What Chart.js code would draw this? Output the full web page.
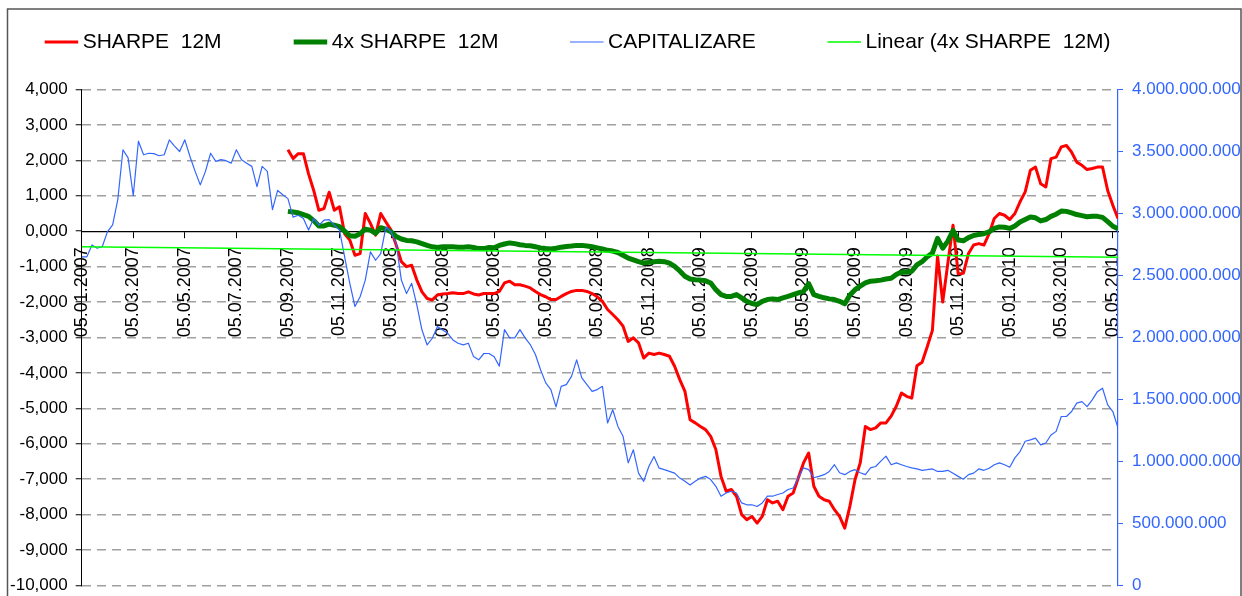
<!DOCTYPE html>
<html>
<head>
<meta charset="utf-8">
<script src="https://cdn.jsdelivr.net/npm/chart.js@4.4.0/dist/chart.umd.min.js"></script>
<style>
  html, body { margin: 0; padding: 0; background: #fff; }
  #wrap { width: 1242px; height: 596px; }
</style>
</head>
<body>
<div id="wrap"><canvas id="chart" width="1242" height="596"></canvas></div>
<script>
// Tick labels, one every two months
const tickLabels = [
    '05.01.2007', '05.03.2007', '05.05.2007', '05.07.2007', '05.09.2007', '05.11.2007',
    '05.01.2008', '05.03.2008', '05.05.2008', '05.07.2008', '05.09.2008', '05.11.2008',
    '05.01.2009', '05.03.2009', '05.05.2009', '05.07.2009', '05.09.2009', '05.11.2009',
    '05.01.2010', '05.03.2010', '05.05.2010'
];

// One point every tenth of a two-month period
const STEP = 0.1;
const X_MAX = 20.1;
// Sharpe series start at 05.09.2007 (point 40)
const SHARPE_START = 40;

// SHARPE 12M (left axis)
const sharpe12m = [
    2.30, 2.05, 2.19, 2.19, 1.62, 1.15, 0.59, 0.64, 1.10, 0.59,
    0.69, -0.07, -0.25, -0.68, -0.63, 0.50, 0.22, -0.11, 0.50, 0.26,
    0.03, -0.39, -0.86, -1.00, -0.96, -1.38, -1.71, -1.90, -1.94, -1.80,
    -1.77, -1.76, -1.74, -1.76, -1.76, -1.71, -1.77, -1.80, -1.76, -1.76,
    -1.76, -1.70, -1.46, -1.41, -1.51, -1.51, -1.55, -1.60, -1.70, -1.79,
    -1.85, -1.93, -1.93, -1.84, -1.76, -1.70, -1.67, -1.67, -1.70, -1.76,
    -1.85, -1.98, -2.21, -2.35, -2.50, -2.68, -3.11, -3.01, -3.15, -3.58,
    -3.44, -3.48, -3.44, -3.48, -3.53, -3.81, -4.19, -4.52, -5.32, -5.41,
    -5.51, -5.60, -5.79, -6.16, -6.92, -7.34, -7.29, -7.48, -8.00, -8.14,
    -8.05, -8.24, -8.05, -7.58, -7.67, -7.62, -7.86, -7.48, -7.39, -6.96,
    -6.54, -6.26, -7.20, -7.48, -7.58, -7.62, -7.86, -8.05, -8.38, -7.76,
    -7.01, -6.54, -5.51, -5.60, -5.55, -5.41, -5.41, -5.22, -4.94, -4.57,
    -4.66, -4.71, -3.80, -3.70, -3.26, -2.80, -0.70, -2.00, -0.90, 0.17,
    -1.20, -1.19, -0.63, -0.39, -0.35, -0.39, -0.07, 0.36, 0.50, 0.45,
    0.33, 0.50, 0.83, 1.11, 1.72, 1.81, 1.34, 1.25, 2.05, 2.09,
    2.38, 2.42, 2.23, 1.95, 1.86, 1.74, 1.77, 1.81, 1.81, 1.15,
    0.73, 0.36
];

// 4x SHARPE 12M (left axis)
const sharpe4x = [
    0.56, 0.54, 0.52, 0.47, 0.42, 0.30, 0.15, 0.15, 0.20, 0.17,
    0.13, 0.00, -0.13, -0.14, -0.07, 0.06, 0.03, -0.06, 0.10, 0.06,
    -0.02, -0.15, -0.22, -0.26, -0.27, -0.30, -0.35, -0.40, -0.44, -0.46,
    -0.44, -0.44, -0.44, -0.45, -0.45, -0.44, -0.46, -0.49, -0.49, -0.46,
    -0.47, -0.40, -0.36, -0.33, -0.35, -0.38, -0.40, -0.41, -0.44, -0.47,
    -0.49, -0.50, -0.48, -0.45, -0.43, -0.42, -0.40, -0.40, -0.42, -0.44,
    -0.47, -0.50, -0.54, -0.56, -0.60, -0.68, -0.76, -0.81, -0.86, -0.90,
    -0.88, -0.86, -0.85, -0.86, -0.90, -0.99, -1.12, -1.27, -1.35, -1.37,
    -1.38, -1.40, -1.46, -1.65, -1.79, -1.84, -1.84, -1.79, -1.88, -1.98,
    -2.04, -2.07, -1.98, -1.93, -1.91, -1.93, -1.88, -1.84, -1.79, -1.74,
    -1.70, -1.48, -1.79, -1.84, -1.88, -1.91, -1.93, -1.98, -2.05, -1.80,
    -1.65, -1.55, -1.46, -1.41, -1.40, -1.38, -1.35, -1.33, -1.22, -1.15,
    -1.16, -1.13, -0.95, -0.86, -0.72, -0.62, -0.20, -0.48, -0.28, 0.02,
    -0.25, -0.27, -0.18, -0.12, -0.09, -0.07, -0.02, 0.08, 0.12, 0.11,
    0.08, 0.15, 0.26, 0.33, 0.40, 0.38, 0.29, 0.33, 0.42, 0.48,
    0.57, 0.56, 0.52, 0.47, 0.44, 0.41, 0.42, 0.42, 0.39, 0.27,
    0.14, 0.07
];

// CAPITALIZARE in millions (right axis)
const capitalizareMil = [
    2651, 2651, 2746, 2720, 2734, 2854, 2909, 3111, 3514, 3449,
    3143, 3583, 3474, 3486, 3483, 3466, 3474, 3594, 3543, 3500,
    3594, 3460, 3340, 3231, 3340, 3486, 3420, 3434, 3426, 3406,
    3514, 3434, 3406, 3380, 3217, 3380, 3340, 3031, 3186, 3151,
    3120, 2971, 2986, 2960, 2866, 2960, 2906, 2946, 2951, 2906,
    2866, 2651, 2437, 2250, 2329, 2463, 2691, 2623, 2677, 2891,
    2851, 2757, 2463, 2354, 2437, 2263, 2060, 1940, 1994, 2089,
    2060, 2034, 1980, 1954, 1940, 1954, 1846, 1820, 1871, 1871,
    1845, 1769, 2063, 1997, 1997, 2063, 1997, 1943, 1863, 1740,
    1634, 1580, 1440, 1606, 1620, 1686, 1820, 1674, 1620, 1566,
    1580, 1606, 1311, 1417, 1283, 1203, 989, 1094, 906, 840,
    960, 1040, 946, 934, 920, 906, 866, 840, 811, 840,
    866, 880, 854, 800, 720, 746, 760, 746, 666, 651,
    651, 637, 666, 720, 720, 734, 746, 774, 786, 869,
    949, 934, 869, 880, 894, 920, 974, 909, 894, 920,
    934, 909, 894, 949, 960, 1003, 1043, 974, 989, 974,
    960, 949, 940, 929, 934, 940, 920, 920, 929, 906,
    880, 857, 894, 906, 940, 929, 946, 974, 989, 974,
    954, 1029, 1080, 1163, 1174, 1189, 1134, 1149, 1214, 1243,
    1363, 1363, 1403, 1471, 1483, 1443, 1497, 1563, 1591, 1457,
    1403, 1269
];

// Linear trend of 4x SHARPE 12M, value at both ends of the axis
const trendEnds = [-0.435, -0.735];

const FONT = '"Liberation Sans", Arial, sans-serif';
const BLUE = '#3366ff';

function toPoints(values, start) {
    return values.map(function(v, i) {
        return { x: (start + i) * STEP, y: v };
    });
}

function formatLeft(v) {
    return v.toFixed(3).replace('.', ',');
}

function formatRight(v) {
    if (v === 0) {
        return '0';
    }
    return Math.round(v * 1000000).toString().replace(/\B(?=(\d{3})+(?!\d))/g, '.');
}

// keep label overflow from shrinking the plot area
function fixWidth(width) {
    return function(scale) {
        scale.width = width;
        scale.paddingTop = 0;
        scale.paddingBottom = 0;
    };
}

// Excel style legend on one row
const legendX = [44.7, 293.7, 570, 827.5];

const excelLegend = {
    id: 'excelLegend',
    afterDraw: function(chart) {
        const ctx = chart.ctx;
        const y = 42;
        ctx.save();
        ctx.font = '21px ' + FONT;
        ctx.textBaseline = 'middle';
        ctx.textAlign = 'left';
        chart.data.datasets.forEach(function(ds, i) {
            const x = legendX[i];
            ctx.strokeStyle = ds.borderColor;
            ctx.lineWidth = ds.borderWidth;
            ctx.beginPath();
            ctx.moveTo(x, y);
            ctx.lineTo(x + 33.5, y);
            ctx.stroke();
            ctx.fillStyle = '#000';
            ctx.fillText(ds.label, x + 38, y);
        });
        ctx.restore();
    }
};

// Outer frame of the chart object
const frame = {
    id: 'frame',
    afterDraw: function(chart) {
        const ctx = chart.ctx;
        ctx.save();
        ctx.strokeStyle = '#555';
        ctx.lineWidth = 1.5;
        ctx.strokeRect(7.5, 9, 1233.5, 600);
        ctx.restore();
    }
};

const chart = new Chart(document.getElementById('chart'), {
    type: 'line',
    data: {
        datasets: [
            {
                label: 'SHARPE  12M',
                data: toPoints(sharpe12m, SHARPE_START),
                borderColor: '#ff0000',
                borderWidth: 3,
                yAxisID: 'y',
                order: 3
            },
            {
                label: '4x SHARPE  12M',
                data: toPoints(sharpe4x, SHARPE_START),
                borderColor: '#008000',
                borderWidth: 5,
                yAxisID: 'y',
                order: 2
            },
            {
                label: 'CAPITALIZARE',
                data: toPoints(capitalizareMil, 0),
                borderColor: BLUE,
                borderWidth: 1.2,
                yAxisID: 'y2',
                order: 1
            },
            {
                label: 'Linear (4x SHARPE  12M)',
                data: [{ x: 0, y: trendEnds[0] }, { x: X_MAX, y: trendEnds[1] }],
                borderColor: '#00ff00',
                borderWidth: 1.5,
                yAxisID: 'y',
                order: 0
            }
        ]
    },
    options: {
        responsive: false,
        animation: false,
        devicePixelRatio: 1,
        layout: {
            padding: { left: 10, right: 0, top: 89.5, bottom: 10.5 }
        },
        elements: {
            point: { radius: 0 },
            line: { tension: 0, fill: false, borderJoinStyle: 'round' }
        },
        plugins: {
            legend: { display: false },
            tooltip: { enabled: false }
        },
        scales: {
            x: {
                type: 'linear',
                position: { y: 0 },
                min: 0,
                max: X_MAX,
                afterBuildTicks: function(scale) {
                    scale.ticks = tickLabels.map(function(_, i) {
                        return { value: i };
                    });
                },
                grid: {
                    drawOnChartArea: false,
                    tickLength: 6,
                    tickColor: '#000',
                    tickWidth: 1
                },
                border: { color: '#000', width: 1.2 },
                ticks: {
                    autoSkip: false,
                    minRotation: 90,
                    maxRotation: 90,
                    padding: 10,
                    color: '#000',
                    font: { family: FONT, size: 18 },
                    callback: function(value) {
                        return tickLabels[Math.round(value)] || '';
                    }
                }
            },
            y: {
                position: 'left',
                min: -10,
                max: 4,
                afterFit: fixWidth(71.7),
                grid: {
                    color: function(ctx) {
                        return ctx.tick && ctx.tick.value === 0 ? 'rgba(0,0,0,0)' : '#a0a0a0';
                    },
                    lineWidth: 1.5,
                    tickLength: 6,
                    tickColor: '#000',
                    tickWidth: 1,
                    tickBorderDash: []
                },
                border: { color: '#000', width: 1, dash: [9, 6] },
                ticks: {
                    stepSize: 1,
                    padding: 8,
                    color: '#000',
                    font: { family: FONT, size: 17 },
                    callback: formatLeft
                }
            },
            y2: {
                position: 'right',
                min: 0,
                max: 4000,
                afterFit: fixWidth(124),
                grid: {
                    drawOnChartArea: false,
                    tickLength: 5,
                    tickColor: BLUE,
                    tickWidth: 1
                },
                border: { color: BLUE, width: 1.2 },
                ticks: {
                    stepSize: 500,
                    padding: 9,
                    color: BLUE,
                    font: { family: FONT, size: 17 },
                    callback: formatRight
                }
            }
        }
    },
    plugins: [excelLegend, frame]
});
</script>
</body>
</html>
